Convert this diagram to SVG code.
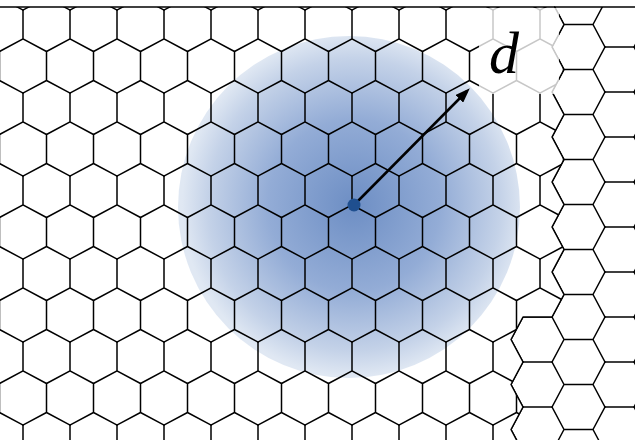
<svg xmlns="http://www.w3.org/2000/svg" width="635" height="440" viewBox="0 0 635 440">
<style>
.mesh{fill:none;stroke:#000;stroke-width:1.5;stroke-linejoin:round;stroke-linecap:round}
.lbl{font-family:"Liberation Serif","Times New Roman",serif;font-style:italic;font-size:60px;fill:#000}
</style>
<defs>
<radialGradient id="blue" cx="354" cy="205" r="172" gradientUnits="userSpaceOnUse">
<stop offset="0" stop-color="#6d8ec4"/>
<stop offset="0.5" stop-color="#93acd6"/>
<stop offset="0.85" stop-color="#c4d2e8"/>
<stop offset="1" stop-color="#e0e8f3"/>
</radialGradient>
<path id="pm" class="mesh" d="M0,0V29L23.5,41.5M0,29L-23.5,41.5M23.5,41.5V70.5L0,83M23.5,70.5L47,83"/>
<path id="fm" class="mesh" d="M0,0H29L41,22.5H70L82,0M29,45L41,22.5M70,22.5L82,45"/>
<pattern id="pointy" patternUnits="userSpaceOnUse" x="23" y="10" width="47" height="83">
<use href="#pm" x="-47" y="-83"/><use href="#pm" x="0" y="-83"/><use href="#pm" x="47" y="-83"/>
<use href="#pm" x="-47" y="0"/><use href="#pm" x="0" y="0"/><use href="#pm" x="47" y="0"/>
<use href="#pm" x="-47" y="83"/><use href="#pm" x="0" y="83"/><use href="#pm" x="47" y="83"/>
</pattern>
<pattern id="flat" patternUnits="userSpaceOnUse" x="523" y="2" width="82" height="45">
<use href="#fm" x="-82" y="-45"/><use href="#fm" x="0" y="-45"/><use href="#fm" x="82" y="-45"/>
<use href="#fm" x="-82" y="0"/><use href="#fm" x="0" y="0"/><use href="#fm" x="82" y="0"/>
<use href="#fm" x="-82" y="45"/><use href="#fm" x="0" y="45"/><use href="#fm" x="82" y="45"/>
</pattern>
<clipPath id="leftClip">
<path d="M0,7L554.7,7L564,24.5L552,47L564,69.5L552,92L564,114.5L552,137L564,159.5L552,182L564,204.5L552,227L564,249.5L552,272L564,294.5L552,317L523,317L511,339.5L523,362L511,384.5L523,407L511,429.5L516.6,440L0,440Z"/>
</clipPath>
<clipPath id="rightClip">
<path d="M635,7L554.7,7L564,24.5L552,47L564,69.5L552,92L564,114.5L552,137L564,159.5L552,182L564,204.5L552,227L564,249.5L552,272L564,294.5L552,317L523,317L511,339.5L523,362L511,384.5L523,407L511,429.5L516.6,440L635,440Z"/>
</clipPath>
<marker id="arrowHead" viewBox="0 0 15 11" refX="11" refY="5.5" markerWidth="15" markerHeight="11" markerUnits="userSpaceOnUse" orient="auto">
<path d="M0,0L15,5.5L0,11Z" fill="#000"/>
</marker>
</defs>
<rect width="635" height="440" fill="#fff"/>
<circle id="zone" cx="349" cy="207" r="171" fill="url(#blue)"/>
<g id="mesh">
<rect x="0" y="0" width="635" height="440" fill="url(#pointy)" clip-path="url(#leftClip)"/>
<rect x="0" y="0" width="635" height="440" fill="url(#flat)" clip-path="url(#rightClip)"/>
<path class="mesh" d="M554.7,7L564,24.5L552,47L564,69.5L552,92L564,114.5L552,137L564,159.5L552,182L564,204.5L552,227L564,249.5L552,272L564,294.5L552,317L523,317L511,339.5L523,362L511,384.5L523,407L511,429.5L516.6,440"/>
<path class="mesh" d="M0,7H635"/>
</g>
<rect id="labelBack" x="479" y="8" width="80" height="86" fill="#fff" fill-opacity="0.78"/>
<g id="connectors">
<line x1="354" y1="205" x2="467" y2="91" stroke="#000" stroke-width="2.5" marker-end="url(#arrowHead)"/>
</g>
<circle id="center" cx="354" cy="205" r="6.5" fill="#1f4f8f"/>
<text class="lbl" x="489" y="73">d</text>
</svg>
